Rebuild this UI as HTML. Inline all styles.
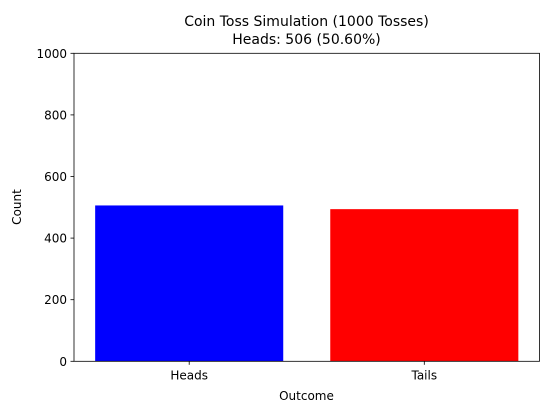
<!DOCTYPE html>
<html><head><meta charset="utf-8"><style>
body{margin:0;background:#fff;}
svg{display:block;font-family:"DejaVu Sans","Liberation Sans",sans-serif;}
</style></head><body>
<svg id="chart" width="549" height="414" viewBox="0 0 549 414">
<text x="306.5" y="26" text-anchor="middle" font-size="14">Coin Toss Simulation (1000 Tosses)</text>
<text x="306.5" y="44" text-anchor="middle" font-size="14">Heads: 506 (50.60%)</text>
<g id="bars"></g>
<g id="axes"></g>
<text x="306.5" y="400" text-anchor="middle" font-size="12">Outcome</text>
<text transform="translate(21,207) rotate(-90)" text-anchor="middle" font-size="12">Count</text>
</svg>
<script>
const categories = ["Heads", "Tails"];
const counts = [506, 494];
const barColors = ["#0000ff", "#ff0000"];
const yTicks = [0, 200, 400, 600, 800, 1000];

const L = 74, R = 539.5, T = 53.3, B = 361.3;
const xMin = -0.49, xMax = 1.49, yMax = 1000;
const xs = v => L + (v - xMin) / (xMax - xMin) * (R - L);
const ys = v => B - v / yMax * (B - T);
const NS = "http://www.w3.org/2000/svg";
const bars = document.getElementById("bars");
const axes = document.getElementById("axes");
function mk(tag, attrs, parent) {
  const e = document.createElementNS(NS, tag);
  for (const k in attrs) e.setAttribute(k, attrs[k]);
  parent.appendChild(e);
  return e;
}
categories.forEach((c, i) => {
  const x0 = xs(i - 0.4), x1 = xs(i + 0.4);
  const r = mk("rect", {x: x0, y: ys(counts[i]), width: x1 - x0, height: ys(0) - ys(counts[i]), fill: barColors[i]}, bars);
  
  
  const t = mk("line", {x1: xs(i), x2: xs(i), y1: B, y2: B + 3.5, stroke: "#000", "stroke-width": 0.8}, axes);
  
  
  const lbl = mk("text", {x: xs(i), y: B + 18, "text-anchor": "middle", "font-size": 12}, axes);
  lbl.textContent = c;
  
  
});
yTicks.forEach(v => {
  const t = mk("line", {x1: L - 3.5, x2: L, y1: ys(v), y2: ys(v), stroke: "#000", "stroke-width": 0.8}, axes);
  
  
  const lbl = mk("text", {x: L - 7, y: ys(v) + 4.5, "text-anchor": "end", "font-size": 12}, axes);
  lbl.textContent = v;
  
  
});
const frame = mk("rect", {x: L, y: T, width: R - L, height: B - T, fill: "none", stroke: "#000", "stroke-width": 0.8}, axes);


</script>
</body></html>
